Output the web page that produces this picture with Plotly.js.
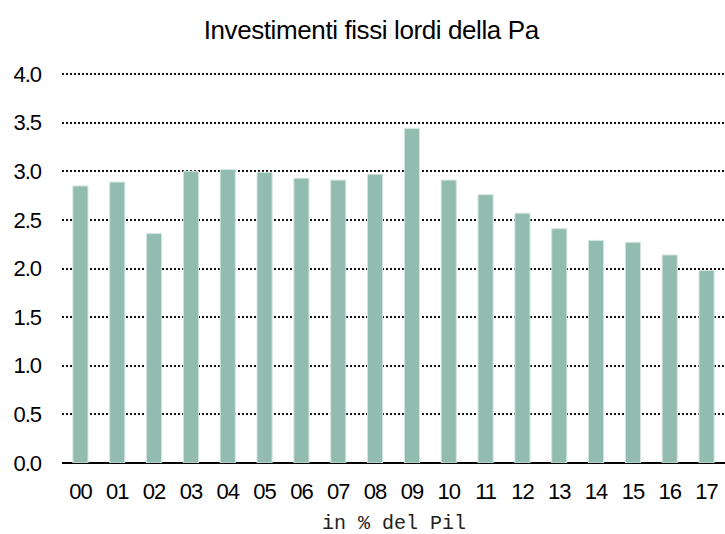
<!DOCTYPE html>
<html>
<head>
<meta charset="utf-8">
<script src="https://cdn.plot.ly/plotly-3.0.1.min.js"></script>
<style>
html,body{margin:0;padding:0;background:#fff;}
#chart{width:725px;height:534px;}
.xtick text, .ytick text{letter-spacing:-1px;}
.gtitle{letter-spacing:-0.4px;}
</style>
</head>
<body>
<div id="chart"></div>
<script>
var years = ["00","01","02","03","04","05","06","07","08","09","10","11","12","13","14","15","16","17"];
var values = [2.85,2.89,2.36,3.00,3.02,2.99,2.93,2.91,2.97,3.44,2.91,2.76,2.57,2.41,2.29,2.27,2.14,1.98];
var yTicks = [0,0.5,1,1.5,2,2.5,3,3.5,4];
var yTickLabels = ["0.0","0.5","1.0","1.5","2.0","2.5","3.0","3.5","4.0"];
var chartTitle = "Investimenti fissi lordi della Pa";
var xTitle = "in % del Pil";

var trace = {
  type: "bar",
  x: years,
  y: values,
  marker: {color: "#93bcb1", line: {color: "#d3e6df", width: 1}},
  hoverinfo: "x+y"
};

var layout = {
  width: 725,
  height: 534,
  margin: {l: 62, r: 0, t: 73, b: 71},
  paper_bgcolor: "#fff",
  plot_bgcolor: "#fff",
  showlegend: false,
  bargap: 0.59,
  font: {family: "Liberation Sans, Arial, sans-serif", color: "#000"},
  title: {
    text: chartTitle,
    font: {family: "Liberation Sans, Arial, sans-serif", size: 26, color: "#000"},
    xref: "container", x: 0.512, xanchor: "center",
    yref: "container", y: 1 - 30/534, yanchor: "middle"
  },
  xaxis: {
    type: "category",
    showgrid: false,
    showline: false,
    zeroline: false,
    ticks: "",
    tickfont: {size: 22, color: "#000"},
    ticklabelstandoff: 13
  },
  yaxis: {
    range: [0, 4.012],
    tickmode: "array",
    tickvals: yTicks,
    ticktext: yTickLabels,
    tickfont: {size: 22, color: "#000"},
    ticklabelstandoff: 20,
    showgrid: true,
    gridcolor: "#111",
    gridwidth: 2,
    griddash: "2px,2px",
    zeroline: true,
    zerolinecolor: "#000",
    zerolinewidth: 2,
    showline: false,
    ticks: "",
    fixedrange: true
  },
  annotations: [{
    text: xTitle,
    xref: "paper", x: 0.5, xanchor: "center",
    yref: "paper", y: -(523 - 463) / 390, yanchor: "middle",
    showarrow: false,
    font: {family: "Liberation Mono, Courier New, monospace", size: 20, color: "#222"}
  }]
};

Plotly.newPlot("chart", [trace], layout, {displayModeBar: false, staticPlot: true});
</script>
</body>
</html>
